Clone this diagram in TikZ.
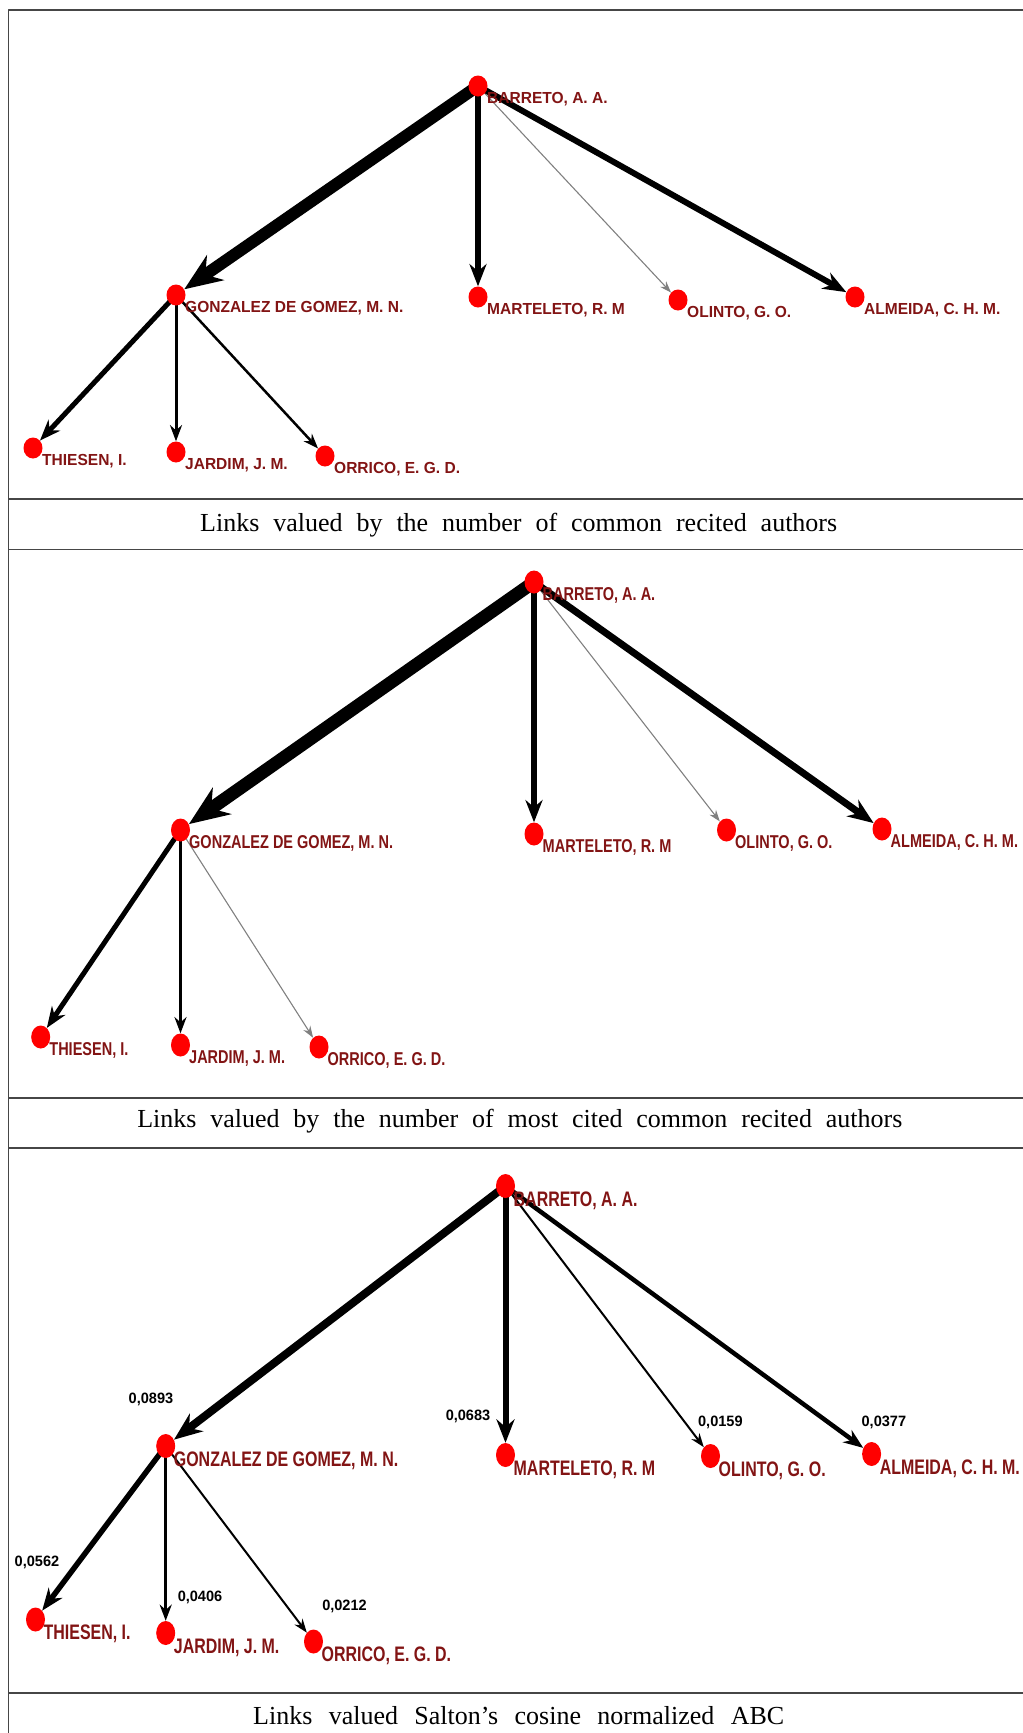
\documentclass[tikz,border=0pt]{standalone}
\usepackage{fontspec}
\setmainfont{Liberation Serif}
\newfontfamily\namefonta[FakeStretch=0.97]{Liberation Sans}
\newfontfamily\namefontb[FakeStretch=0.78]{Liberation Sans}
\newfontfamily\namefontc[FakeStretch=0.76]{Liberation Sans}
\usetikzlibrary{arrows.meta,shapes.geometric,backgrounds}
\definecolor{namered}{RGB}{130,20,20}
\definecolor{rulegray}{RGB}{70,70,70}
\begin{document}
\begin{tikzpicture}[x=1pt,y=-1pt,line join=round,
		dot/.style={ellipse,fill=red,inner sep=0pt,minimum width=19pt,minimum height=#1},
		who/.style={anchor=base west,text=namered,inner sep=0pt},
		whoa/.style={who,font=\namefonta\bfseries\fontsize{16}{16}\selectfont},
		whob/.style={who,font=\namefontb\bfseries\fontsize{18.6}{18.6}\selectfont},
		whoc/.style={who,font=\namefontc\bfseries\fontsize{21}{21}\selectfont},
		lnk/.style={line width=#1pt,-{Stealth[length=9pt 2.4,width=6pt 2]}},
		faint/.style={draw=gray},
		val/.style={inner sep=0pt,font=\namefonta\bfseries\fontsize{15}{15}\selectfont},
		captext/.style={inner sep=0pt,font=\fontsize{26}{28}\selectfont}]
	\useasboundingbox (0,0) rectangle (1023,1733);
	\draw[rulegray,line width=1.6pt] (1023,10)--(8.3,10)--(8.3,1733);
	\foreach \y in {499,549.5,1097.7,1148,1693}
		\draw[rulegray,line width=1.6pt] (8.3,\y)--(1023,\y);
	% common recited authors
	\foreach \n/\x/\y/\t in {b1/478/86/{BARRETO, A. A.},g1/176/295/{GONZALEZ DE GOMEZ, M. N.},
		m1/478/297/{MARTELETO, R. M},o1/678/300/{OLINTO, G. O.},a1/855/297/{ALMEIDA, C. H. M.},
		t1/33/448/{THIESEN, I.},j1/176/452/{JARDIM, J. M.},r1/325/456/{ORRICO, E. G. D.}}{
		\node[dot=21pt] (\n) at (\x,\y) {};
		\node[whoa] (\n t) at ([shift={(9,17.5)}]\n) {\t};
	}
	\begin{pgfonlayer}{background}
		\draw[lnk=12] (b1.center)--(g1);
		\draw[lnk=5.5] (b1.center)--(m1);
		\draw[lnk=1.1,faint] (b1.center)--(o1);
		\draw[lnk=6] (b1.center)--(a1);
		\draw[lnk=5] (g1.center)--(t1);
		\draw[lnk=3] (g1.center)--(j1);
		\draw[lnk=2.5] (g1.center)--(r1);
	\end{pgfonlayer}
	\node[captext] (c1) at (518.7,524.8) {\makebox[637pt][s]{Links valued by the number of common recited authors}};
	% most cited common recited authors
	\foreach \n/\x/\y/\t in {b2/534/582/{BARRETO, A. A.},g2/180.5/830/{GONZALEZ DE GOMEZ, M. N.},
		m2/534/834/{MARTELETO, R. M},o2/726.5/830/{OLINTO, G. O.},a2/882/829/{ALMEIDA, C. H. M.},
		t2/40.7/1037/{THIESEN, I.},j2/180.5/1045/{JARDIM, J. M.},r2/319/1047/{ORRICO, E. G. D.}}{
		\node[dot=23pt] (\n) at (\x,\y) {};
		\node[whob] (\n t) at ([shift={(8.5,18)}]\n) {\t};
	}
	\begin{pgfonlayer}{background}
		\draw[lnk=13] (b2.center)--(g2);
		\draw[lnk=5.5] (b2.center)--(m2);
		\draw[lnk=1.1,faint] (b2.center)--(o2);
		\draw[lnk=7] (b2.center)--(a2);
		\draw[lnk=5] (g2.center)--(t2);
		\draw[lnk=3] (g2.center)--(j2);
		\draw[lnk=1.1,faint] (g2.center)--(r2);
	\end{pgfonlayer}
	\node[captext] (c2) at (519.8,1121.3) {\makebox[765pt][s]{Links valued by the number of most cited common recited authors}};
	% Salton's cosine
	\foreach \n/\x/\y/\t in {b3/505.5/1186/{BARRETO, A. A.},g3/165.7/1446/{GONZALEZ DE GOMEZ, M. N.},
		m3/505.5/1455/{MARTELETO, R. M},o3/710.5/1456/{OLINTO, G. O.},a3/871.6/1454/{ALMEIDA, C. H. M.},
		t3/35.5/1619.5/{THIESEN, I.},j3/165.7/1633/{JARDIM, J. M.},r3/313.5/1641.5/{ORRICO, E. G. D.}}{
		\node[dot=24pt] (\n) at (\x,\y) {};
		\node[whoc] (\n t) at ([shift={(8,20)}]\n) {\t};
	}
	\begin{pgfonlayer}{background}
		\draw[lnk=8] (b3.center)--(g3);
		\draw[lnk=6] (b3.center)--(m3);
		\draw[lnk=2] (b3.center)--(o3);
		\draw[lnk=4.5] (b3.center)--(a3);
		\draw[lnk=5.5] (g3.center)--(t3);
		\draw[lnk=3] (g3.center)--(j3);
		\draw[lnk=2] (g3.center)--(r3);
	\end{pgfonlayer}
	\node[val] (v1) at (151,1399) {0,0893};
	\node[val] (v2) at (468,1416.3) {0,0683};
	\node[val] (v3) at (720.4,1422.9) {0,0159};
	\node[val] (v4) at (883.9,1422.9) {0,0377};
	\node[val] (v5) at (37,1562) {0,0562};
	\node[val] (v6) at (200,1597) {0,0406};
	\node[val] (v7) at (344.5,1606) {0,0212};
	\node[captext] (c3) at (518.7,1715.7) {\makebox[531pt][s]{Links valued Salton’s cosine normalized ABC}};
\end{tikzpicture}
\end{document}
